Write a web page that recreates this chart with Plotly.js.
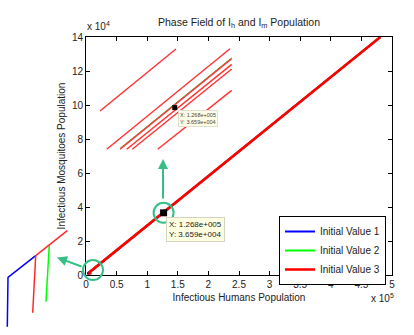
<!DOCTYPE html>
<html>
<head>
<meta charset="utf-8">
<script src="https://cdn.plot.ly/plotly-3.0.1.min.js"></script>
<style>html,body{margin:0;padding:0;background:#fff;}#chart{width:414px;height:335px;}</style>
</head>
<body>
<div id="chart"></div>
<script>
// ---- Data ----
const seriesNames = ['Initial Value 1', 'Initial Value 2', 'Initial Value 3'];
const seriesColors = ['#0000ff', '#00ff00', '#ff0000'];
// main trajectories (Ih, Im)
const iv1X = [3000, 3500, 12000, 481000];
const iv1Y = [200, 1300, 3460, 140000];
const iv2X = [8000, 8400, 20000, 481000];
const iv2Y = [300, 2300, 5770, 140000];
const iv3X = [5500, 5900, 12000, 481000];
const iv3Y = [100, 1700, 3460, 140000];
// data tip
const tipX = [126800];
const tipY = [36590];
const xTickVals = [0, 50000, 100000, 150000, 200000, 250000, 300000, 350000, 400000, 450000, 500000];
const xTickText = ['0', '0.5', '1', '1.5', '2', '2.5', '3', '3.5', '4', '4.5', '5'];
const yTickVals = [0, 20000, 40000, 60000, 80000, 100000, 120000, 140000];
const yTickText = ['0', '2', '4', '6', '8', '10', '12', '14'];
// magnified view near the data tip (upper inset)
const zA_X = [124738, 126834], zA_Y = [36547, 37322];
const zB_X = [124923, 128324], zB_Y = [36069, 37326];
const zC_X = [125290, 128371], zC_Y = [36069, 37201];
const zD_X = [125474, 128371], zD_Y = [36069, 37131];
const zE_X = [125629, 128371], zE_Y = [36069, 37072];
const zF_X = [126330, 128371], zF_Y = [36069, 36806];
// magnified view near the origin (lower-left inset)
const oBlueX = [292, 320, 1428], oBlueY = [83, 577, 793];
const oRedX = [1308, 1428, 2692], oRedY = [223, 793, 1043];
const oGreenX = [1840, 1972], oGreenY = [333, 900];

// ---- Layout helpers ----
const W = 414, H = 335;
const FONT = 'Liberation Sans, Arial, sans-serif';
const xDom = [86 / W, 392 / W];
const yDom = [(H - 275) / H, (H - 37) / H];
const xRange = [0, 500000], yRange = [0, 140000];
function px(v) { return xDom[0] + (v - xRange[0]) / (xRange[1] - xRange[0]) * (xDom[1] - xDom[0]); }
function py(v) { return yDom[0] + (v - yRange[0]) / (yRange[1] - yRange[0]) * (yDom[1] - yDom[0]); }
function PX(p) { return p / W; }
function PY(p) { return (H - p) / H; }

const traces = [
  {x: iv1X, y: iv1Y, name: seriesNames[0], mode: 'lines', line: {color: seriesColors[0], width: 2}, xaxis: 'x', yaxis: 'y'},
  {x: iv2X, y: iv2Y, name: seriesNames[1], mode: 'lines', line: {color: seriesColors[1], width: 2}, xaxis: 'x', yaxis: 'y'},
  {x: iv3X, y: iv3Y, name: seriesNames[2], mode: 'lines', line: {color: seriesColors[2], width: 2.6}, xaxis: 'x', yaxis: 'y'},
  {x: tipX, y: tipY, mode: 'markers', marker: {symbol: 'square', size: 7, color: '#000'}, showlegend: false, cliponaxis: false, xaxis: 'x', yaxis: 'y'}
];
// upper inset
const zLineRed = {color: '#ff3535', width: 1.5};
const zLineGreen = {color: '#5aa830', width: 1};
[[zC_X, zC_Y]].forEach(function (p) {
  traces.push({x: p[0], y: p[1].map(function (v) { return v + 12; }), mode: 'lines', line: zLineGreen, showlegend: false, xaxis: 'x2', yaxis: 'y2'});
});
[[zA_X, zA_Y], [zB_X, zB_Y], [zC_X, zC_Y], [zD_X, zD_Y], [zE_X, zE_Y], [zF_X, zF_Y]].forEach(function (p) {
  traces.push({x: p[0], y: p[1], mode: 'lines', line: zLineRed, showlegend: false, xaxis: 'x2', yaxis: 'y2'});
});
traces.push({x: tipX, y: tipY, mode: 'markers', marker: {symbol: 'square', size: 5, color: '#000'}, showlegend: false, xaxis: 'x2', yaxis: 'y2'});
// lower-left inset
traces.push({x: oBlueX, y: oBlueY, mode: 'lines', line: {color: '#0000ff', width: 1.5}, showlegend: false, xaxis: 'x3', yaxis: 'y3'});
traces.push({x: oGreenX, y: oGreenY, mode: 'lines', line: {color: '#00ff00', width: 1.5}, showlegend: false, xaxis: 'x3', yaxis: 'y3'});
traces.push({x: oRedX, y: oRedY, mode: 'lines', line: {color: '#ff2a2a', width: 1.5}, showlegend: false, xaxis: 'x3', yaxis: 'y3'});

const axisCommon = {
  ticks: 'inside', ticklen: 4, tickwidth: 1, tickcolor: '#000',
  showline: true, linecolor: '#000', linewidth: 1, mirror: 'ticks',
  showgrid: false, zeroline: false,
  tickfont: {family: FONT, size: 10, color: '#222'}
};
const circleColor = '#35bf85';
const originCircle = {x: 11400, y: 2900};

const layout = {
  width: W, height: H, autosize: false,
  margin: {l: 0, r: 0, t: 0, b: 0},
  paper_bgcolor: '#fff', plot_bgcolor: 'rgba(0,0,0,0)',
  font: {family: FONT, size: 10, color: '#222'},
  title: {text: 'Phase Field of I<sub>h</sub> and I<sub>m</sub> Population', x: 239 / W, xanchor: 'center', y: PY(22), yanchor: 'middle', font: {family: FONT, size: 10.5, color: '#222'}},
  xaxis: Object.assign({}, axisCommon, {domain: xDom, range: xRange, tickmode: 'array', tickvals: xTickVals, ticktext: xTickText, anchor: 'y',
    title: {text: 'Infectious Humans Population', font: {family: FONT, size: 10, color: '#222'}, standoff: 4}}),
  yaxis: Object.assign({}, axisCommon, {domain: yDom, range: yRange, tickmode: 'array', tickvals: yTickVals, ticktext: yTickText, anchor: 'x',
    title: {text: 'Infectious Mosquitoes Population', font: {family: FONT, size: 10, color: '#222'}, standoff: 4}}),
  xaxis2: {domain: [95 / W, 240 / W], range: [124600, 128600], visible: false, anchor: 'y2', fixedrange: true},
  yaxis2: {domain: [PY(154), PY(42)], range: [36010, 37410], visible: false, anchor: 'x2', fixedrange: true},
  xaxis3: {domain: [0, 75 / W], range: [0, 3000], visible: false, anchor: 'y3', fixedrange: true},
  yaxis3: {domain: [0, PY(225)], range: [0, 1100], visible: false, anchor: 'x3', fixedrange: true},
  showlegend: true,
  legend: {x: PX(386), xanchor: 'right', y: PY(216), yanchor: 'top', bgcolor: '#fff', bordercolor: '#000', borderwidth: 1,
    font: {family: FONT, size: 10, color: '#222'}, tracegroupgap: 0, itemwidth: 30},
  shapes: [
    {type: 'circle', xref: 'paper', yref: 'paper', xsizemode: 'pixel', ysizemode: 'pixel', xanchor: px(tipX[0]), yanchor: py(tipY[0]),
      x0: -10, x1: 10, y0: -10, y1: 10, line: {color: circleColor, width: 2}},
    {type: 'circle', xref: 'paper', yref: 'paper', xsizemode: 'pixel', ysizemode: 'pixel', xanchor: px(originCircle.x), yanchor: py(originCircle.y),
      x0: -10, x1: 10, y0: -10, y1: 10, line: {color: circleColor, width: 2}}
  ],
  annotations: [
    {xref: 'paper', yref: 'paper', x: PX(85), y: PY(34), xanchor: 'left', yanchor: 'bottom', showarrow: false,
      text: 'x 10<sup>4</sup>', font: {family: FONT, size: 10, color: '#222'}},
    {xref: 'paper', yref: 'paper', x: PX(369), y: PY(306), xanchor: 'left', yanchor: 'bottom', showarrow: false,
      text: 'x 10<sup>5</sup>', font: {family: FONT, size: 10, color: '#222'}},
    {xref: 'paper', yref: 'paper', x: PX(166), y: PY(217), xanchor: 'left', yanchor: 'top', showarrow: false, align: 'left',
      text: 'X: 1.268e+005<br>Y: 3.659e+004', font: {family: FONT, size: 8, color: '#222'},
      bgcolor: '#ffffe1', bordercolor: '#d4d4c0', borderwidth: 1, borderpad: 2},
    {xref: 'paper', yref: 'paper', x: PX(177.5), y: PY(110), xanchor: 'left', yanchor: 'top', showarrow: false, align: 'left',
      text: 'X: 1.268e+005<br>Y: 3.659e+004', font: {family: FONT, size: 5.5, color: '#444'},
      bgcolor: '#ffffe8', bordercolor: '#e0e0d0', borderwidth: 1, borderpad: 1},
    {xref: 'paper', yref: 'paper', x: PX(163), y: PY(159), ax: 0, ay: 41, text: '', showarrow: true,
      arrowhead: 2, arrowsize: 1, arrowwidth: 2, arrowcolor: circleColor, standoff: 0, startstandoff: 0},
    {xref: 'paper', yref: 'paper', x: PX(57), y: PY(257.5), ax: 26, ay: 9.5, text: '', showarrow: true,
      arrowhead: 2, arrowsize: 1, arrowwidth: 2, arrowcolor: circleColor, standoff: 0, startstandoff: 0}
  ]
};

Plotly.newPlot('chart', traces, layout, {displayModeBar: false, staticPlot: true});
</script>
</body>
</html>
